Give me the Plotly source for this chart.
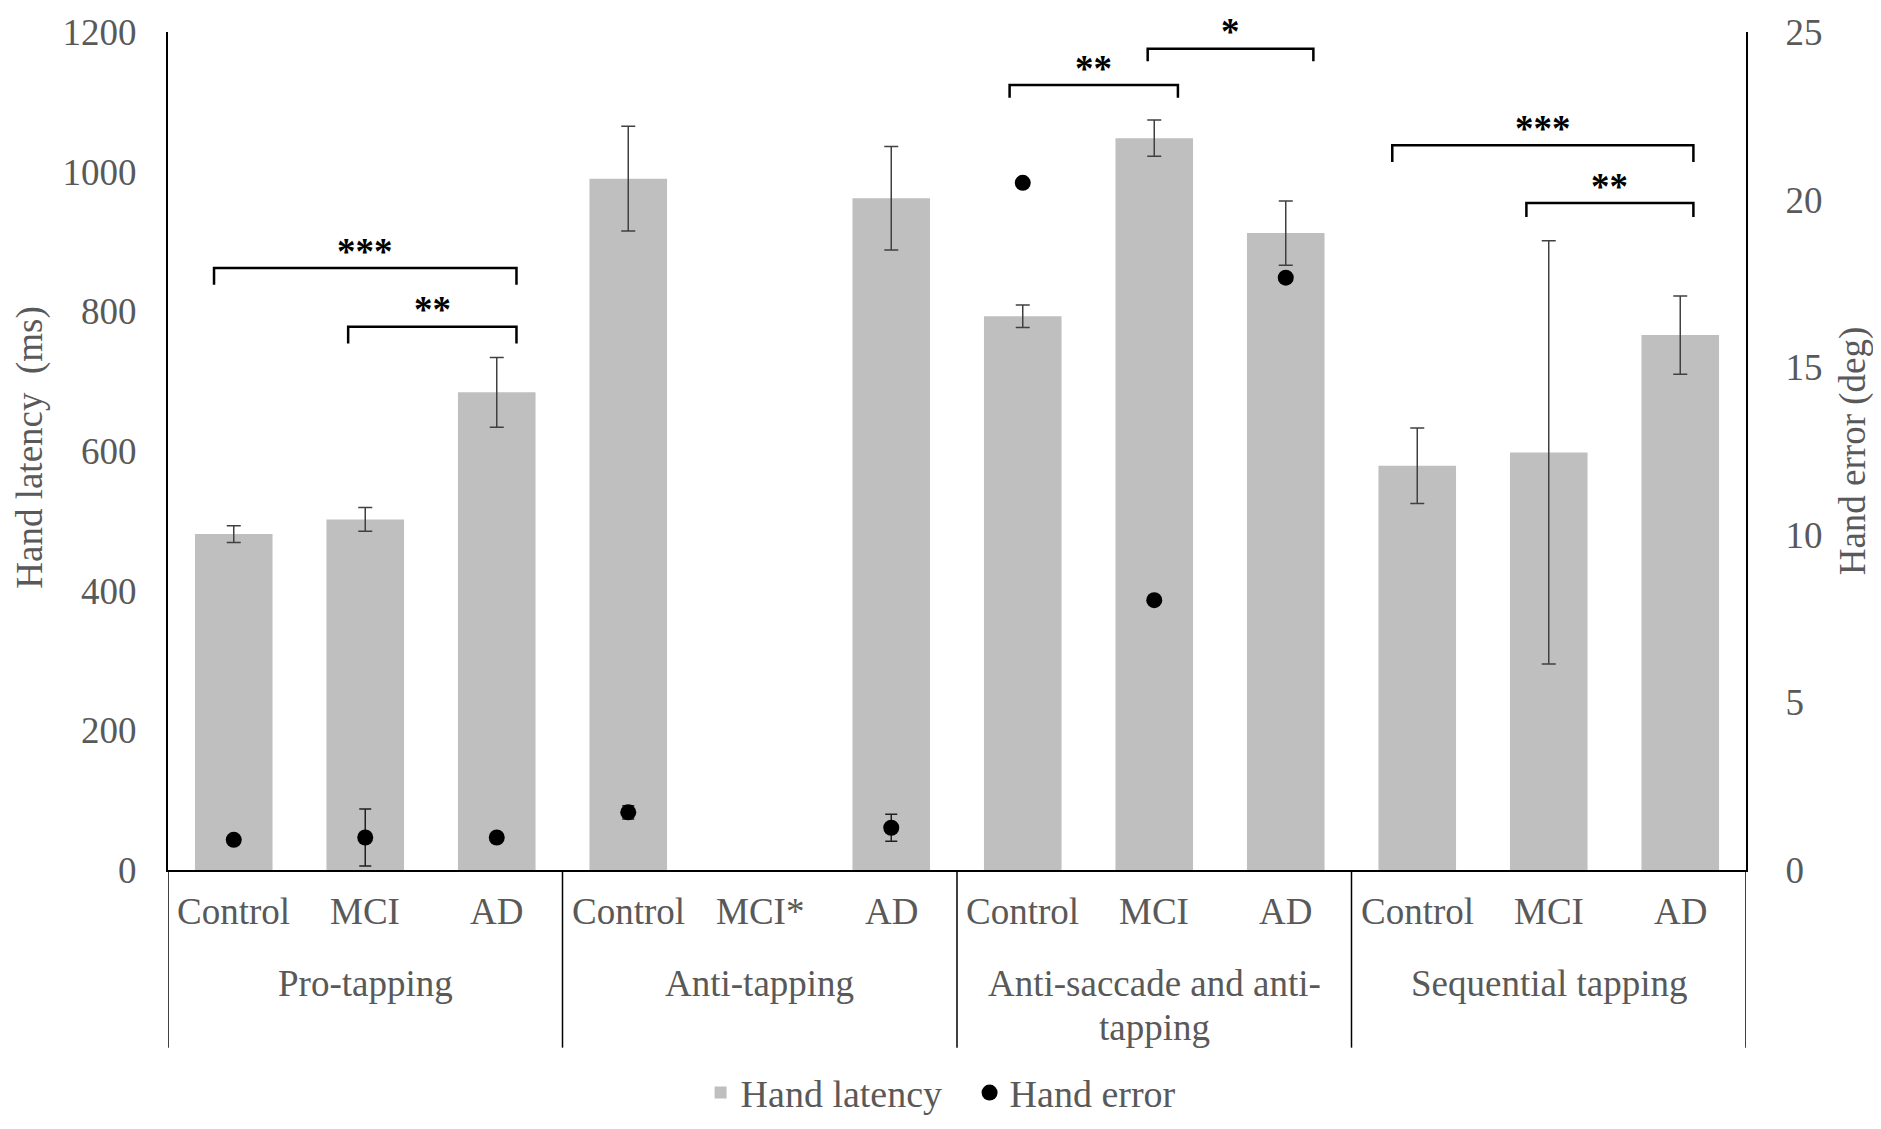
import plotly.graph_objects as go

# ---- data ----
tasks = ["Pro-tapping", "Anti-tapping", "Anti-saccade and anti-<br>tapping", "Sequential tapping"]
groups = ["Control", "MCI", "AD", "Control", "MCI*", "AD",
          "Control", "MCI", "AD", "Control", "MCI", "AD"]

latency = [481, 502, 684, 990, None, 962, 793, 1048, 912, 579, 598, 766]
latency_err = [12, 17, 50, 75, 0, 74, 16, 26, 46, 54, 303, 56]

hand_error = [0.9, 0.97, 0.97, 1.72, None, 1.26, 20.5, 8.05, 17.67, None, None, None]
hand_error_err = [0.1, 0.85, 0.1, 0.2, 0, 0.4, 0, 0, 0, 0, 0, 0]

# significance brackets: (left bar, right bar, height in ms, label)
sig_left = [0, 1, 6, 7, 9, 10]
sig_right = [2, 2, 7, 8, 11, 11]
sig_height = [862, 778, 1124, 1176, 1038, 955]
sig_label = ["***", "**", "**", "*", "***", "**"]

FONT = "Liberation Serif"
GREY = "#595959"
FS = 37

xs = list(range(len(groups)))

fig = go.Figure()

fig.add_trace(go.Bar(
    name="Hand latency",
    x=xs, y=latency,
    width=0.59,
    marker=dict(color="#BFBFBF", line=dict(width=0)),
    error_y=dict(type="data", array=latency_err, color="#404040",
                 thickness=1.5, width=7),
))

fig.add_trace(go.Scatter(
    name="Hand error",
    x=xs, y=hand_error,
    yaxis="y2",
    mode="markers",
    marker=dict(color="black", size=16),
    error_y=dict(type="data", array=hand_error_err, color="#202020",
                 thickness=1.5, width=6),
))

# bracket end offsets and tick drops (ms), so each bracket sits like the original
left_off = [-0.15, -0.13, -0.1, -0.05, -0.19, -0.17]
right_off = [0.15, 0.15, 0.18, 0.21, 0.1, 0.1]
drop = [24, 24, 18, 18, 24, 20]
for a, b, h, lab, lo, ro, d in zip(sig_left, sig_right, sig_height, sig_label,
                                    left_off, right_off, drop):
    x0, x1 = a + lo, b + ro
    fig.add_shape(type="path",
                  path=f"M {x0} {h - d} L {x0} {h} L {x1} {h} L {x1} {h - d}",
                  xref="x", yref="y", line=dict(color="black", width=2.5))
    fig.add_annotation(x=(x0 + x1) / 2, y=h - 8, text="<b>" + lab + "</b>", showarrow=False,
                       xref="x", yref="y", yanchor="bottom",
                       font=dict(family=FONT, size=37, color="black"))

# category labels under the axis
for i, g in enumerate(groups):
    fig.add_annotation(x=i, y=-0.05, text=g, showarrow=False,
                       xref="x", yref="paper", yanchor="middle",
                       font=dict(family=FONT, size=FS, color=GREY))

for k, t in enumerate(tasks):
    for j, line in enumerate(t.split("<br>")):
        fig.add_annotation(x=3 * k + 1, y=-0.136 - 0.052 * j, text=line, showarrow=False,
                           xref="x", yref="paper", yanchor="middle",
                           font=dict(family=FONT, size=FS, color=GREY))

for k in range(len(tasks) + 1):
    fig.add_shape(type="line", x0=3 * k - 0.5, x1=3 * k - 0.5, y0=0, y1=-0.212,
                  xref="x", yref="paper", line=dict(color="black", width=1.5))

# axis titles
fig.add_annotation(x=-0.0875, y=0.505, text="Hand latency  (ms)", textangle=-90,
                   xref="paper", yref="paper", xanchor="center", yanchor="middle",
                   showarrow=False, font=dict(family=FONT, size=FS, color=GREY))
fig.add_annotation(x=1.068, y=0.5, text="Hand error (deg)", textangle=-90,
                   xref="paper", yref="paper", xanchor="center", yanchor="middle",
                   showarrow=False, font=dict(family=FONT, size=FS, color=GREY))

fig.update_layout(
    width=1865, height=1113,
    margin=dict(l=160, r=127, t=24, b=251, autoexpand=False),
    paper_bgcolor="white", plot_bgcolor="white",
    font=dict(family=FONT, size=FS, color=GREY),
    bargap=0.41,
    showlegend=True,
    legend=dict(orientation="h", x=0.3375, y=-0.266, xanchor="left", yanchor="middle",
                font=dict(family=FONT, size=38, color=GREY), itemwidth=30,
                entrywidth=224),
    xaxis=dict(range=[-0.5, 11.5], showticklabels=False, showgrid=False, zeroline=False,
               showline=True, linecolor="black", linewidth=2, ticks=""),
    yaxis=dict(range=[0, 1200], dtick=200, showgrid=False, zeroline=False,
               showline=True, linecolor="black", linewidth=2, ticks="",
               ticklabelstandoff=22, tickfont=dict(family=FONT, size=FS, color=GREY)),
    yaxis2=dict(range=[0, 25], dtick=5, overlaying="y", side="right",
                showgrid=False, zeroline=False, showline=True, linecolor="black",
                linewidth=2, ticks="", ticklabelstandoff=30,
                tickfont=dict(family=FONT, size=FS, color=GREY)),
)

fig.write_html("out.html")
